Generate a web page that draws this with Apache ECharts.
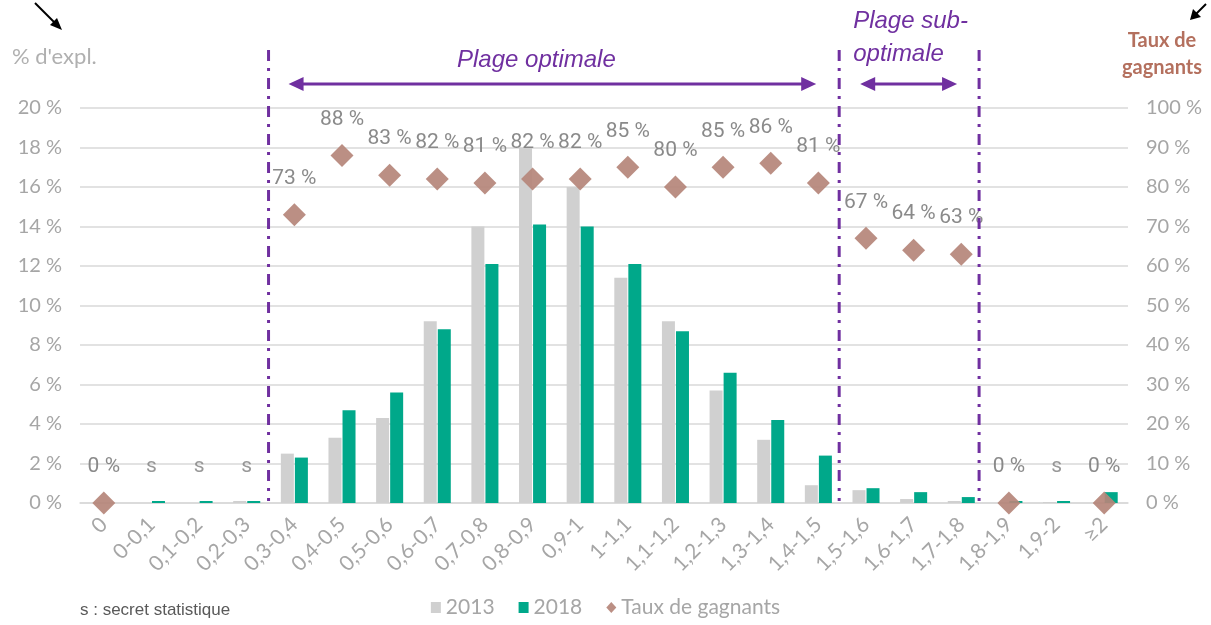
<!DOCTYPE html>
<html><head><meta charset="utf-8">
<script src="https://cdn.jsdelivr.net/npm/echarts@6/dist/echarts.min.js"></script>
<style>html,body{margin:0;padding:0;background:#fff}#c{width:1211px;height:625px}</style>
</head><body><div id="c"></div>
<script>
const categories = ['0','0-0,1','0,1-0,2','0,2-0,3','0,3-0,4','0,4-0,5','0,5-0,6','0,6-0,7','0,7-0,8','0,8-0,9','0,9-1','1-1,1','1,1-1,2','1,2-1,3','1,3-1,4','1,4-1,5','1,5-1,6','1,6-1,7','1,7-1,8','1,8-1,9','1,9-2','≥2'];
const pct2013 = [0,0,0,0.1,2.5,3.3,4.3,9.2,14.0,18.0,16.0,11.4,9.2,5.7,3.2,0.9,0.65,0.2,0.1,0,0.05,0];
const pct2018 = [0,0.1,0.1,0.1,2.3,4.7,5.6,8.8,12.1,14.1,14.0,12.1,8.7,6.6,4.2,2.4,0.75,0.55,0.3,0.1,0.1,0.55];
const tauxGagnants = [0,null,null,null,73,88,83,82,81,82,82,85,80,85,86,81,67,64,63,0,null,0];
const secretCats = ['0-0,1','0,1-0,2','0,2-0,3','1,9-2'];
const leftTicks = {min:0,max:20,interval:2};
const rightTicks = {min:0,max:100,interval:10};

const purple = '#7030a0';
const chart = echarts.init(document.getElementById('c'));
const labelFont = {fontFamily:'Roboto', fontSize:21, color:'#808080'};

chart.setOption({
  animation:false,
  grid:{left:80,right:83,top:108,bottom:122},
  legend:{
    bottom:2, left:'center', itemWidth:10, itemHeight:11, itemGap:24,
    textStyle:{fontFamily:'Lato', fontSize:21, color:'#a6a6a6'},
    data:[{name:'2013',icon:'rect'},{name:'2018',icon:'rect'},{name:'Taux de gagnants',icon:'diamond'}]
  },
  xAxis:{
    type:'category', data:categories,
    axisLine:{lineStyle:{color:'#d9d9d9', width:1.5}}, axisTick:{show:false},
    axisLabel:{rotate:45, interval:0, fontFamily:'Lato', fontSize:21, color:'#a6a6a6', margin:18}
  },
  yAxis:[
    {type:'value', min:leftTicks.min, max:leftTicks.max, interval:leftTicks.interval,
     axisLabel:{formatter:'{value} %', fontFamily:'Lato', fontSize:20, color:'#a6a6a6', margin:18},
     splitLine:{lineStyle:{color:'#d9d9d9', width:1.5}}, axisLine:{show:false}, axisTick:{show:false}},
    {type:'value', min:rightTicks.min, max:rightTicks.max, interval:rightTicks.interval,
     axisLabel:{formatter:'{value} %', fontFamily:'Lato', fontSize:20, color:'#a6a6a6', margin:18},
     splitLine:{show:false}, axisLine:{show:false}, axisTick:{show:false}}
  ],
  series:[
    {name:'2013', type:'bar', data:pct2013, barWidth:13, barGap:'8%', itemStyle:{color:'#d0d0d0'}},
    {name:'2018', type:'bar', data:pct2018, barWidth:13, itemStyle:{color:'#00a88a'}},
    {name:'Taux de gagnants', type:'scatter', yAxisIndex:1, symbol:'diamond', symbolSize:23, z:5,
     itemStyle:{color:'#b5867a', opacity:0.92},
     data:tauxGagnants,
     label:{show:true, position:'top', distance:14, formatter:p=>p.value+' %', ...labelFont}},
    {name:'secret', type:'scatter', yAxisIndex:1, symbolSize:23, z:5, itemStyle:{color:'rgba(0,0,0,0)'},
     data:secretCats.map(c=>[c,0]),
     label:{show:true, position:'top', distance:14, formatter:'s', ...labelFont}}
  ]
});

function annotate(){
  const c0 = chart.convertToPixel({xAxisIndex:0}, categories[0]);
  const c1 = chart.convertToPixel({xAxisIndex:0}, categories[1]);
  const bw = c1 - c0;
  const bnd = i => c0 + (i - 0.5) * bw;
  const yTop = chart.convertToPixel({yAxisIndex:0}, leftTicks.max);
  const yZero = chart.convertToPixel({yAxisIndex:0}, 0);
  const els = [];
  [[4,-2],[16,-3],[19,-6]].forEach(([i,d])=>{
    const x = bnd(i) + d;
    els.push({type:'line', shape:{x1:x,y1:yTop-58,x2:x,y2:yZero-2}, style:{stroke:purple,lineWidth:3,lineDash:[11,7,3,7]}, z:10});
  });
  function arrow(x1,x2,y){
    els.push({type:'line', shape:{x1:x1+10,y1:y,x2:x2-10,y2:y}, style:{stroke:purple,lineWidth:3}, z:10});
    els.push({type:'polygon', shape:{points:[[x1,y],[x1+15,y-7],[x1+15,y+7]]}, style:{fill:purple}, z:10});
    els.push({type:'polygon', shape:{points:[[x2,y],[x2-15,y-7],[x2-15,y+7]]}, style:{fill:purple}, z:10});
  }
  const ay = yTop - 24;
  arrow(bnd(4)+18, bnd(16)-26, ay);
  arrow(bnd(16)+18, bnd(19)-28, ay);
  els.push({type:'text', x:(bnd(4)+bnd(16))/2-20, y:ay-24, style:{text:'Plage optimale', font:'italic 24px "Liberation Sans", Arial', fill:purple, textAlign:'center', textVerticalAlign:'middle'}});
  els.push({type:'text', x:bnd(16)+11, y:ay-46, style:{text:'Plage sub-\noptimale', font:'italic 24px "Liberation Sans", Arial', fill:purple, textAlign:'left', textVerticalAlign:'middle', lineHeight:33}});
  // axis titles
  els.push({type:'text', x:12, y:57, style:{text:"% d'expl.", font:'22px Lato', fill:'#b0b0b0', textVerticalAlign:'middle'}});
  els.push({type:'text', x:1162, y:54, style:{text:'Taux de\ngagnants', font:'bold 20px Lato', fill:'#b4705e', textAlign:'center', textVerticalAlign:'middle', lineHeight:27}});
  // pointer arrows
  els.push({type:'line', shape:{x1:35,y1:3,x2:55,y2:23}, style:{stroke:'#000',lineWidth:2}});
  els.push({type:'polygon', shape:{points:[[62,30],[50,25],[57,18]]}, style:{fill:'#000'}});
  els.push({type:'line', shape:{x1:1206,y1:4,x2:1196,y2:14}, style:{stroke:'#000',lineWidth:2}});
  els.push({type:'polygon', shape:{points:[[1190,20],[1193,9],[1201,17]]}, style:{fill:'#000'}});
  // footnote
  els.push({type:'text', x:80, y:610, style:{text:'s : secret statistique', font:'17px "Liberation Sans", Arial', fill:'#595959', textVerticalAlign:'middle'}});
  chart.setOption({graphic:els});
}
annotate();
</script></body></html>
